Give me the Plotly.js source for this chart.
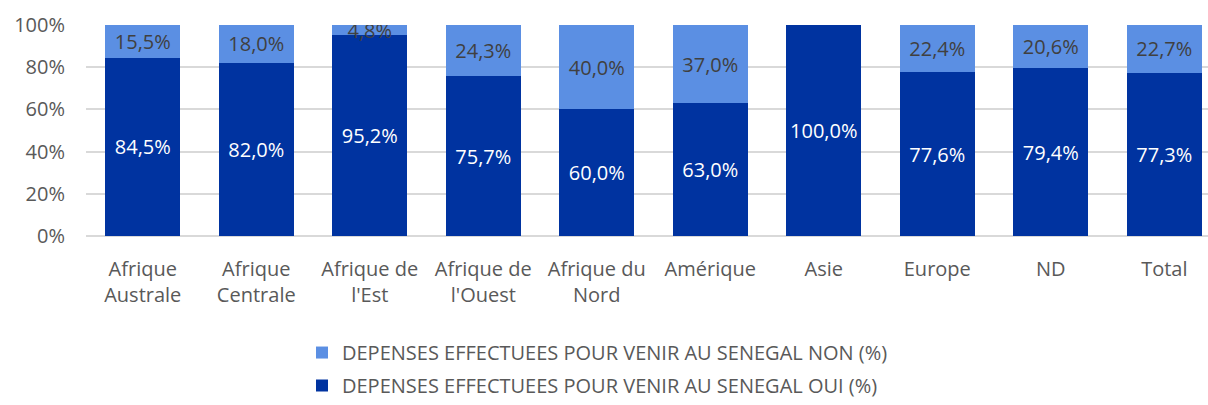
<!DOCTYPE html>
<html>
<head>
<meta charset="utf-8">
<script src="https://cdn.plot.ly/plotly-3.0.1.min.js"></script>
<style>
  body { margin: 0; background: #fff; }
  #chart { width: 1208px; height: 405px; }
</style>
</head>
<body>
<div id="chart"></div>
<script>
// Regions (categories) and the two shares
var regions = ["Afrique<br>Australe", "Afrique<br>Centrale", "Afrique de<br>l'Est", "Afrique de<br>l'Ouest",
  "Afrique du<br>Nord", "Amérique", "Asie", "Europe", "ND", "Total"];
var depensesOui = [84.5, 82.0, 95.2, 75.7, 60.0, 63.0, 100.0, 77.6, 79.4, 77.3];
var depensesNon = [15.5, 18.0, 4.8, 24.3, 40.0, 37.0, 0.0, 22.4, 20.6, 22.7];
var yTicks = [0, 20, 40, 60, 80, 100];

// French number format, empty label for a 0 share
function pct(v) {
  return v === 0 ? "" : v.toFixed(1).replace(".", ",") + "%";
}

var fontFam = "'Open Sans', sans-serif";

var oui = {
  x: regions,
  y: depensesOui,
  name: "DEPENSES EFFECTUEES POUR VENIR AU SENEGAL OUI (%)",
  type: "bar",
  marker: { color: "#0033a0" },
  text: depensesOui.map(pct),
  textposition: "inside",
  insidetextanchor: "middle",
  textangle: 0,
  textfont: { color: "#ffffff", size: 20, family: fontFam },
  width: 0.66,
  legend: "legend2",
  hoverinfo: "none"
};

var non = {
  x: regions,
  y: depensesNon,
  name: "DEPENSES EFFECTUEES POUR VENIR AU SENEGAL NON (%)",
  type: "bar",
  marker: { color: "#5b8fe3" },
  text: depensesNon.map(pct),
  textposition: "inside",
  insidetextanchor: "middle",
  textangle: 0,
  textfont: { color: "#404040", size: 20, family: fontFam },
  width: 0.66,
  legend: "legend",
  hoverinfo: "none"
};

var legendFont = { size: 20, color: "#595959", family: fontFam };

var layout = {
  width: 1208,
  height: 405,
  margin: { l: 86, r: 0, t: 25, b: 168 },
  barmode: "stack",
  paper_bgcolor: "#ffffff",
  plot_bgcolor: "#ffffff",
  font: { family: fontFam, size: 20, color: "#595959" },
  uniformtext: { mode: "show", minsize: 20 },
  xaxis: {
    range: [-0.5, 9.385],
    showgrid: false,
    ticks: "",
    automargin: false,
    ticklabelstandoff: 19,
    tickfont: { size: 20, color: "#595959" }
  },
  yaxis: {
    range: [0, 100],
    tickmode: "array",
    tickvals: yTicks,
    ticktext: yTicks.map(function (v) { return v + "%"; }),
    showgrid: true,
    gridcolor: "#d9d9d9",
    gridwidth: 2,
    zeroline: true,
    zerolinecolor: "#d9d9d9",
    zerolinewidth: 2,
    automargin: false,
    ticklabelstandoff: 20,
    tickfont: { size: 20, color: "#595959" }
  },
  showlegend: true,
  legend: {
    orientation: "v",
    x: 0.1925,
    xanchor: "left",
    y: -0.545,
    yanchor: "middle",
    itemwidth: 30,
    font: legendFont
  },
  legend2: {
    orientation: "v",
    x: 0.1925,
    xanchor: "left",
    y: -0.712,
    yanchor: "middle",
    itemwidth: 30,
    font: legendFont
  }
};

Plotly.newPlot("chart", [oui, non], layout, { displayModeBar: false, staticPlot: true });
</script>
</body>
</html>
